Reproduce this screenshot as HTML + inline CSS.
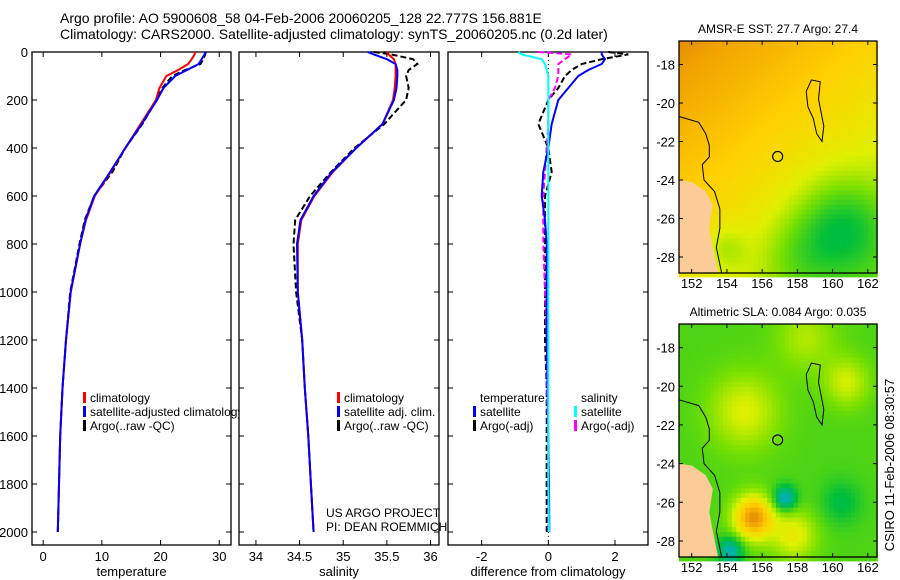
<!DOCTYPE html>
<html><head><meta charset="utf-8"><style>
html,body{margin:0;padding:0;background:#fff;}
svg{display:block;font-family:"Liberation Sans",sans-serif;}
text{fill:#000;}
</style></head><body>
<svg id="fig" width="900" height="580" viewBox="0 0 900 580">
<g>
<text x="60" y="23" font-size="14">Argo profile: AO 5900608_58 04-Feb-2006 20060205_128 22.777S 156.881E</text>
<text x="60" y="39" font-size="14">Climatology: CARS2000. Satellite-adjusted climatology: synTS_20060205.nc (0.2d later)</text>
</g>
<g id="p1"></g>
<g id="p2"></g>
<g id="p3"></g>
<g id="m1"></g>
<g id="m2"></g>
<text x="898" y="465" font-size="13" text-anchor="middle" transform="rotate(-90 898 465)" dy="-4">CSIRO 11-Feb-2006 08:30:57</text>
</svg>
<script>
const depths=[0,10,30,50,75,100,150,200,300,400,500,600,700,800,1000,1200,1400,1600,1800,2000];
const climT=[25.9,25.8,25.3,24.7,23.0,21.0,19.8,19.2,16.6,14.0,11.5,8.8,7.3,6.3,4.7,3.9,3.3,2.9,2.7,2.5];
const satT=[27.6,27.5,27.0,26.5,24.5,22.5,20.5,19.4,16.8,14.0,11.4,8.7,7.2,6.3,4.7,3.9,3.3,2.9,2.7,2.5];
const argoT=[27.7,27.6,27.3,26.8,24.2,22.0,20.3,19.3,16.9,14.0,11.8,8.7,7.1,6.2,4.6,3.9,3.3,2.9,2.7,2.5];
const climS=[35.50,35.52,35.58,35.60,35.60,35.60,35.59,35.57,35.45,35.15,34.88,34.67,34.52,34.48,34.48,34.53,34.56,34.60,34.63,34.66];
const satS=[35.28,35.35,35.50,35.60,35.62,35.62,35.61,35.58,35.45,35.15,34.87,34.66,34.51,34.47,34.48,34.53,34.56,34.60,34.63,34.66];
const argoS=[35.35,35.55,35.80,35.85,35.75,35.72,35.75,35.72,35.47,35.13,34.86,34.62,34.45,34.43,34.46,34.53,34.56,34.60,34.63,34.66];
const dTsat=[1.6,1.6,1.7,1.6,1.2,0.9,0.6,0.3,0.1,0.0,-0.15,-0.2,-0.1,-0.05,-0.05,-0.05,-0.02,0.0,0.02,0.03];
const dTargo=[1.8,2.4,1.6,1.0,0.7,0.5,0.3,0.0,-0.3,0.0,0.1,-0.1,-0.1,-0.1,-0.1,-0.1,-0.05,-0.05,-0.05,-0.05];
const dSsat=[-0.9,-0.8,-0.2,-0.1,-0.05,0,0,0,0,0,0,0,0,0,0,0,0,0,0,0.02];
const dSargo=[-0.3,0.7,0.5,0.3,0.3,0.3,0.2,0.0,0.0,-0.05,-0.1,-0.15,-0.15,-0.15,-0.1,-0.05,-0.05,0,0,0];
const depthTicks=[0,200,400,600,800,1000,1200,1400,1600,1800,2000];
const tTicks=[0,10,20,30];
const sTicks=[34,34.5,35,35.5,36];
const dTicks=[-2,0,2];
const lonTicks=[152,154,156,158,160,162];
const latTicks=[-18,-20,-22,-24,-26,-28];

const NS="http://www.w3.org/2000/svg";
function mk(parent,tag,attrs,txt){const e=document.createElementNS(NS,tag);for(const k in attrs)e.setAttribute(k,attrs[k]);if(txt!==undefined)e.textContent=txt;parent.appendChild(e);return e;}
const PT=52,PB=545;
const yD=d=>PT+d*0.24;

function panel(g,x0,x1,xmin,xmax,ticks,label,fmt,depthLabels){
  const xs=v=>x0+(v-xmin)/(xmax-xmin)*(x1-x0);
  const frame=mk(g,'rect',{x:x0,y:PT,width:x1-x0,height:PB-PT,fill:'#fff',stroke:'#000','stroke-width':1.3});
  
  
  depthTicks.forEach(d=>{
    const y=yD(d);
    const t=mk(g,'path',{d:`M${x0} ${y}h5M${x1} ${y}h-5`,stroke:'#000','stroke-width':1});
    
    
    if(depthLabels){const l=mk(g,'text',{x:x0-4,y:y+5,'font-size':13,'text-anchor':'end'},d);
      
      }
  });
  ticks.forEach(v=>{
    const x=xs(v);
    const t=mk(g,'path',{d:`M${x} ${PB}v-5M${x} ${PT}v5`,stroke:'#000','stroke-width':1});
    
    
    const l=mk(g,'text',{x:x,y:PB+16,'font-size':13,'text-anchor':'middle'},fmt(v));
    
    
  });
  const al=mk(g,'text',{x:(x0+x1)/2,y:576,'font-size':13,'text-anchor':'middle'},label);
  
  
  return xs;
}
function line(g,xs,vals,color,dash,w,name){
  const pts=vals.map((v,i)=>xs(v).toFixed(1)+','+yD(depths[i]).toFixed(1)).join(' ');
  const p=mk(g,'polyline',{points:pts,fill:'none',stroke:color,'stroke-width':w||2,'stroke-dasharray':dash||'none'});
  
  
}
function legend(g,x,y,items){
  items.forEach((it,i)=>{
    const yy=y+i*14;
    if(it.c){const m=mk(g,'rect',{x:x,y:yy-10,width:3,height:11,fill:it.c});
      
      }
    const t=mk(g,'text',{x:x+7,y:yy,'font-size':12},it.t);
    
    
  });
}
const f0=v=>String(v);
const g1=document.getElementById('p1');
const x1=panel(g1,32,231,-1.9,32,tTicks,'temperature',f0,true);
line(g1,x1,argoT,'#000','6,3',2,'argo-temperature-line');
line(g1,x1,climT,'#f00',null,2,'climatology-temperature-line');
line(g1,x1,satT,'#00f',null,2,'satellite-temperature-line');
legend(g1,83,402,[{c:'#f00',t:'climatology'},{c:'#00f',t:'satellite-adjusted climatology'},{c:'#000',t:'Argo(..raw -QC)'}]);
const g2=document.getElementById('p2');
const x2=panel(g2,239,439,33.806,36.097,sTicks,'salinity',f0,false);
line(g2,x2,argoS,'#000','6,3',2,'argo-salinity-line');
line(g2,x2,climS,'#f00',null,2,'climatology-salinity-line');
line(g2,x2,satS,'#00f',null,2,'satellite-salinity-line');
legend(g2,337,402,[{c:'#f00',t:'climatology'},{c:'#00f',t:'satellite adj. clim.'},{c:'#000',t:'Argo(..raw -QC)'}]);
const n1=mk(g2,'text',{x:326,y:517,'font-size':12},'US ARGO PROJECT');


const n2=mk(g2,'text',{x:326,y:531,'font-size':12},'PI: DEAN ROEMMICH');


const g3=document.getElementById('p3');
const x3=panel(g3,448,648,-3.01,2.99,dTicks,'difference from climatology',f0,false);
const zl=mk(g3,'line',{x1:x3(0),x2:x3(0),y1:PT,y2:PB,stroke:'#000','stroke-dasharray':'1,3','stroke-width':1});


line(g3,x3,dTargo,'#000','6,3',2,'argo-temperature-diff-line');
line(g3,x3,dSargo,'#f0f','6,3',2,'argo-salinity-diff-line');
line(g3,x3,dTsat,'#00f',null,2,'satellite-temperature-diff-line');
line(g3,x3,dSsat,'#0ff',null,2,'satellite-salinity-diff-line');
legend(g3,473,402,[{t:'temperature'},{c:'#00f',t:'satellite'},{c:'#000',t:'Argo(-adj)'}]);
legend(g3,574,402,[{t:'salinity'},{c:'#0ff',t:'satellite'},{c:'#f0f',t:'Argo(-adj)'}]);

const cmap=[[0,[0,176,176]],[0.2,[0,190,60]],[0.4,[120,224,0]],[0.55,[224,240,0]],[0.7,[255,208,0]],[0.85,[240,160,0]],[1,[190,80,0]]];
function col(t){t=Math.max(0,Math.min(1,t));for(let i=1;i<cmap.length;i++){if(t<=cmap[i][0]){const a=cmap[i-1],b=cmap[i],f=(t-a[0])/(b[0]-a[0]);return 'rgb('+a[1].map((c,k)=>Math.round(c+(b[1][k]-c)*f)).join(',')+')';}}return 'rgb(190,80,0)';}
const gs=(lo,la,cx,cy,s)=>Math.exp(-((lo-cx)**2+(la-cy)**2)/(2*s*s));
const field1=(lo,la)=>0.76+0.022*(la+22)-0.018*(lo-152)-0.3*gs(lo,la,160.5,-26.5,1.8)-0.12*gs(lo,la,158,-28,1.5)-0.12*gs(lo,la,154,-27.5,0.8);
const field2=(lo,la)=>0.33+0.22*gs(lo,la,155,-21.3,1.4)+0.55*gs(lo,la,155.5,-26.8,0.8)+0.25*gs(lo,la,157.8,-27.7,0.9)-0.4*gs(lo,la,157.3,-25.8,0.45)+0.2*gs(lo,la,160.8,-19.8,0.9)-0.35*gs(lo,la,154.2,-28.5,0.5)-0.15*gs(lo,la,160.5,-26,0.8)+0.15*gs(lo,la,158.5,-17.5,1.2);
const land=[[151.28,-24.0],[152.0,-24.1],[152.8,-24.6],[153.2,-25.3],[153.0,-26.5],[153.2,-27.5],[153.5,-28.83],[151.28,-28.83]];
const coast=[[151.28,-20.7],[152.4,-21.0],[152.8,-21.6],[153.0,-22.2],[153.0,-22.8],[152.6,-23.2],[152.7,-24.0],[153.3,-24.6],[153.6,-25.5],[153.6,-26.5],[153.4,-27.5],[153.7,-28.83]];
const reef=[[158.5,-19.4],[158.8,-18.8],[159.3,-18.9],[159.2,-19.8],[159.5,-21.2],[159.4,-22.0],[159.1,-21.6],[158.9,-20.8],[158.6,-20.2],[158.5,-19.4]];
function map(g,top,bot,field,title){
  const L=679,R=877,lonMin=151.28,lonMax=162.52,latTop=-16.78,latBot=-28.83;
  const xl=lo=>L+(lo-lonMin)/(lonMax-lonMin)*(R-L);
  const yl=la=>top+(latTop-la)/(latTop-latBot)*(bot-top);
  const cells=mk(g,'g',{});
  
  
  const st=0.25;
  for(let lo=lonMin;lo<lonMax;lo+=st){for(let la=latTop;la>latBot;la-=st){
    const x=xl(lo),y=yl(la);
    mk(cells,'rect',{x:x.toFixed(1),y:y.toFixed(1),width:(xl(lo+st)-x+0.6).toFixed(1),height:(yl(la-st)-y+0.6).toFixed(1),fill:col(field(lo+st/2,la-st/2))});
  }}
  const ld=mk(g,'polygon',{points:land.map(p=>xl(p[0])+','+yl(p[1])).join(' '),fill:'#fccc98'});
  
  
  const c1=mk(g,'polyline',{points:coast.map(p=>xl(p[0])+','+yl(p[1])).join(' '),fill:'none',stroke:'#000','stroke-width':1});
  
  
  const c2=mk(g,'polyline',{points:reef.map(p=>xl(p[0])+','+yl(p[1])).join(' '),fill:'none',stroke:'#000','stroke-width':1});
  
  
  const pm=mk(g,'circle',{cx:xl(156.881),cy:yl(-22.777),r:5,fill:'none',stroke:'#000','stroke-width':1.2});
  
  
  const fr=mk(g,'rect',{x:L,y:top,width:R-L,height:bot-top,fill:'none',stroke:'#000','stroke-width':1.3});
  
  
  lonTicks.forEach(v=>{const x=xl(v);
    mk(g,'path',{d:`M${x} ${top}v4M${x} ${bot}v-4`,stroke:'#000'});
    const t=mk(g,'text',{x:x,y:bot+15,'font-size':13,'text-anchor':'middle'},v);
    
    });
  latTicks.forEach(v=>{const y=yl(v);
    mk(g,'path',{d:`M${L} ${y}h4M${R} ${y}h-4`,stroke:'#000'});
    const t=mk(g,'text',{x:L-4,y:y+5,'font-size':13,'text-anchor':'end'},v);
    
    });
  const tt=mk(g,'text',{x:(L+R)/2,y:top-8,'font-size':12,'text-anchor':'middle'},title);
  
  
}
map(document.getElementById('m1'),41,273,field1,'AMSR-E SST: 27.7 Argo: 27.4');
map(document.getElementById('m2'),324,557,field2,'Altimetric SLA: 0.084  Argo: 0.035');
</script>
</body></html>
